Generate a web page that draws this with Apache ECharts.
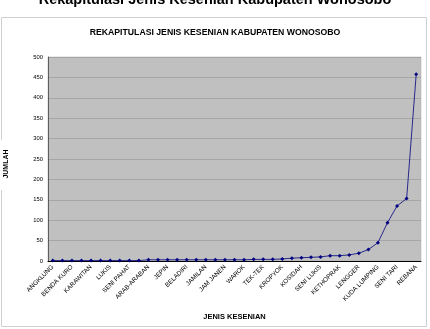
<!DOCTYPE html>
<html><head><meta charset="utf-8">
<script src="https://cdn.jsdelivr.net/npm/echarts@6/dist/echarts.min.js"></script>
<style>html,body{margin:0;padding:0;background:#fff}#c{width:430px;height:329px}</style>
</head><body><div id="c"></div>
<script>
var categories = ['ANGKLUNG','','BENDA KURO','','KARAWITAN','','LUKIS','','SENI PAHAT','','ARAB-ARABAN','','JEPIN','','BELADIRI','','JAMILAN','','JAM JANEN','','WAROK','','TEK-TEK','','KROPYOK','','KOSIDAH','','SENI LUKIS','','KETHOPRAK','','LENGGER','','KUDA LUMPING','','SENI TARI','','REBANA'];
var jumlah = [1,1,1,1,1,1,1,1,1,1,3,3,3,3,3,3,3,3,3,3,3,4,4,4,5,7,8,9,10,13,13,15,19,28,45,94,135,153,458];
var yTicks = [0,50,100,150,200,250,300,350,400,450,500];

var F = 'Arial, "Liberation Sans", sans-serif';
var chart = echarts.init(document.getElementById('c'));
chart.setOption({
  animation:false,
  backgroundColor:'#fff',
  graphic:[
    {type:'rect',shape:{x:1.5,y:17.5,width:425,height:309},style:{fill:'none',stroke:'#d0d0d0',lineWidth:1},z:-1},
    {type:'text',left:'center',top:-8,style:{text:'Rekapitulasi Jenis Kesenian Kabupaten Wonosobo',font:'bold 14.5px '+F,fill:'#000'}},
    {type:'text',left:'center',top:28,style:{text:'REKAPITULASI JENIS KESENIAN KABUPATEN WONOSOBO',font:'bold 8.7px '+F,fill:'#000'}},
    {type:'text',x:6,y:164,rotation:Math.PI/2,style:{text:'JUMLAH',font:'bold 7px '+F,fill:'#000',align:'center',verticalAlign:'middle'}},
    {type:'rect',shape:{x:0,y:140,width:3,height:50},style:{fill:'#fff'},z:100}
  ],
  grid:{left:48,right:9,top:57,bottom:68,show:true,backgroundColor:'#c0c0c0',borderColor:'#a8a8a8',borderWidth:0.5},
  xAxis:{
    type:'category',data:categories,boundaryGap:true,
    name:'JENIS KESENIAN',nameLocation:'middle',nameGap:52,
    nameTextStyle:{fontFamily:F,fontWeight:'bold',fontSize:7.5,color:'#000'},
    axisLine:{lineStyle:{color:'#000',width:1}},
    axisTick:{show:false},
    axisLabel:{interval:0,rotate:45,fontSize:6.3,color:'#000',fontFamily:F,margin:5}
  },
  yAxis:{
    type:'value',min:0,max:500,interval:50,
    axisLine:{show:true,lineStyle:{color:'#000',width:0.5}},
    axisTick:{show:false},
    splitLine:{lineStyle:{color:'#a0a0a0',width:0.8}},
    axisLabel:{fontSize:5.8,color:'#000',fontFamily:F,margin:5,
      formatter:function(v){return yTicks.indexOf(v)>=0?String(v):'';}}
  },
  series:[{
    type:'line',data:jumlah,
    symbol:'diamond',symbolSize:4,
    lineStyle:{color:'#000080',width:0.8},
    itemStyle:{color:'#000080'}
  }]
});
</script></body></html>
